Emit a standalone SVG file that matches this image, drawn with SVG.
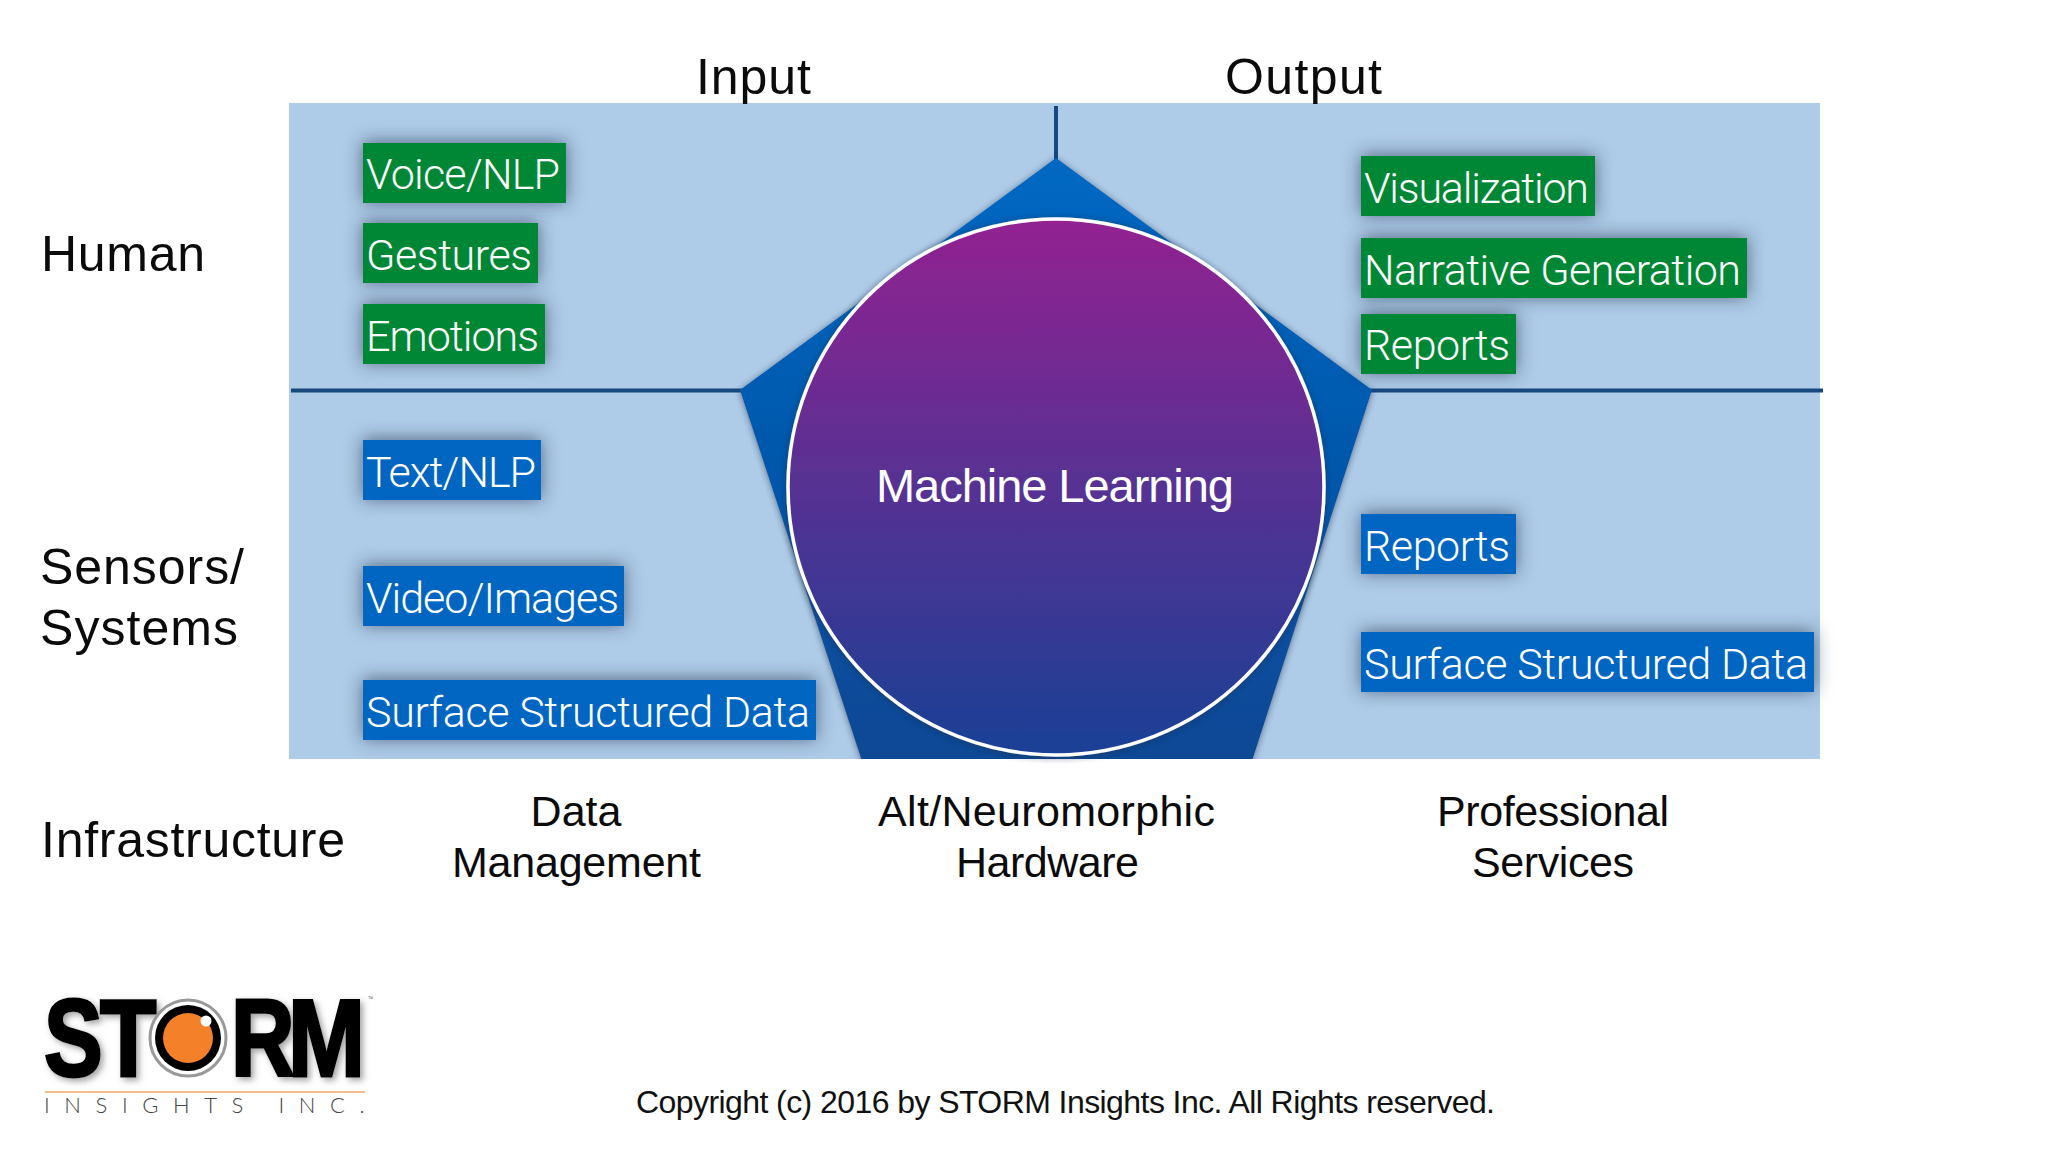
<svg xmlns="http://www.w3.org/2000/svg" width="2048" height="1152" viewBox="0 0 2048 1152">
<defs>
<style>
text{font-family:"Roboto","Liberation Sans",sans-serif;font-weight:300}
.lab{font-family:"Liberation Sans",Arial,sans-serif;font-weight:400;font-size:50px;fill:#0b0b0b}
.sm{font-size:43px}
.tag{font-size:43px;fill:#fff}
.g{fill:#068735}
.b{fill:#0566c2}
.sh{filter:url(#shadow)}
.axis{stroke:#17497f;stroke-width:4;fill:none}
.big{font-family:"Liberation Sans",Arial,sans-serif;font-weight:700;font-size:110px;fill:#000;stroke:#000;stroke-width:3}
</style>
<filter id="shadow" x="-30%" y="-50%" width="160%" height="200%"><feDropShadow dx="0" dy="-1" stdDeviation="9" flood-color="#2b3a55" flood-opacity="0.7"/></filter>
<filter id="edge" x="-10%" y="-10%" width="120%" height="120%"><feDropShadow dx="0" dy="1" stdDeviation="3" flood-color="#1a2a44" flood-opacity="0.6"/></filter>
<filter id="soft" x="-10%" y="-10%" width="120%" height="120%"><feDropShadow dx="3" dy="3" stdDeviation="3" flood-color="#555" flood-opacity="0.55"/></filter>
<linearGradient id="penta" x1="0" y1="0" x2="0" y2="1"><stop offset="0" stop-color="#0068c2"/><stop offset="1" stop-color="#0b4794"/></linearGradient>
<linearGradient id="ball" x1="0" y1="0" x2="0" y2="1"><stop offset="0" stop-color="#932291"/><stop offset="1" stop-color="#1a4095"/></linearGradient>
<clipPath id="panelClip"><rect x="289" y="103" width="1531" height="656"/></clipPath>
</defs>
<rect width="2048" height="1152" fill="#fff"/>
<rect id="panel" x="289" y="103" width="1531" height="656" fill="#aecbe7"/>
<g id="connectors">
<line class="axis" x1="291" y1="390.500" x2="745" y2="390.500"/>
<line class="axis" x1="1368" y1="390.500" x2="1823" y2="390.500"/>
<line class="axis" x1="1056" y1="106" x2="1056" y2="162"/>
</g>
<g id="pentagon" clip-path="url(#panelClip)"><polygon points="1056,158 1372,390 1249,770 865,770 740,390" fill="url(#penta)" filter="url(#edge)"/></g>
<g id="ml">
<circle cx="1056" cy="487" r="268" fill="url(#ball)" stroke="#fff" stroke-width="3.500" filter="url(#edge)"/>
<text x="876" y="502" font-size="47" fill="#fff" textLength="358" style="font-family:'Liberation Sans',sans-serif;font-weight:400">Machine Learning</text>
</g>
<g id="n-voice"><rect class="g sh" x="363" y="143" width="203" height="60"/><text class="tag" x="366" y="189" textLength="194">Voice/NLP</text></g>
<g id="n-gestures"><rect class="g sh" x="363" y="223" width="175" height="60"/><text class="tag" x="366" y="270" textLength="166">Gestures</text></g>
<g id="n-emotions"><rect class="g sh" x="363" y="304" width="182" height="60"/><text class="tag" x="366" y="351" textLength="173">Emotions</text></g>
<g id="n-text"><rect class="b sh" x="363" y="440" width="178" height="60"/><text class="tag" x="366" y="487" textLength="170">Text/NLP</text></g>
<g id="n-video"><rect class="b sh" x="363" y="566" width="261" height="60"/><text class="tag" x="366" y="613" textLength="253">Video/Images</text></g>
<g id="n-surface-in"><rect class="b sh" x="363" y="680" width="453" height="60"/><text class="tag" x="366" y="727" textLength="444">Surface Structured Data</text></g>
<g id="n-vis"><rect class="g sh" x="1361" y="156" width="234" height="60"/><text class="tag" x="1364" y="203" textLength="225">Visualization</text></g>
<g id="n-narr"><rect class="g sh" x="1361" y="238" width="386" height="60"/><text class="tag" x="1364" y="285" textLength="377">Narrative Generation</text></g>
<g id="n-rep-h"><rect class="g sh" x="1361" y="314" width="155" height="60"/><text class="tag" x="1364" y="360" textLength="146">Reports</text></g>
<g id="n-rep-s"><rect class="b sh" x="1361" y="514" width="155" height="60"/><text class="tag" x="1364" y="561" textLength="146">Reports</text></g>
<g id="n-surface-out"><rect class="b sh" x="1361" y="632" width="453" height="60"/><text class="tag" x="1364" y="679" textLength="444">Surface Structured Data</text></g>
<g id="labels">
<text class="lab" x="696" y="94" textLength="115">Input</text>
<text class="lab" x="1225" y="94" textLength="157">Output</text>
<text class="lab" x="41" y="271" textLength="164">Human</text>
<text class="lab" x="40" y="584" textLength="204">Sensors/</text>
<text class="lab" x="40" y="645" textLength="198">Systems</text>
<text class="lab" x="41" y="857" textLength="304">Infrastructure</text>
<text class="lab sm" x="576" y="826" text-anchor="middle" style="font-size:43px">Data</text>
<text class="lab sm" x="452" y="877" textLength="249" style="font-size:43px">Management</text>
<text class="lab sm" x="878" y="826" textLength="337" style="font-size:43px">Alt/Neuromorphic</text>
<text class="lab sm" x="956" y="877" textLength="183" style="font-size:43px">Hardware</text>
<text class="lab sm" x="1437" y="826" textLength="232" style="font-size:43px">Professional</text>
<text class="lab sm" x="1472" y="877" textLength="162" style="font-size:43px">Services</text>
<text x="636" y="1113" font-size="32" fill="#111" textLength="859" style="font-family:'Liberation Sans',sans-serif;font-weight:400">Copyright (c) 2016 by STORM Insights Inc. All Rights reserved.</text>
</g>
<g id="logo">
<g filter="url(#soft)">
<text class="big" transform="translate(44,1076) scale(.8,1)">S</text>
<text class="big" transform="translate(100,1076) scale(.84,1)">T</text>
<text class="big" transform="translate(231,1076) scale(.8,1)">R</text>
<text class="big" transform="translate(288,1076) scale(.84,1)">M</text>
</g>
<circle cx="188" cy="1038" r="38" fill="#fff" stroke="#999" stroke-width="3"/>
<circle cx="188" cy="1038" r="33" fill="#000"/>
<circle cx="188" cy="1038" r="25" fill="#f4802a"/>
<circle cx="206" cy="1021" r="5.500" fill="#fff"/>
<line x1="45" y1="1092" x2="365" y2="1092" stroke="#f6bd8e" stroke-width="2"/>
<text x="44" y="1113" font-size="22" fill="#444" style="font-family:Lato,sans-serif;letter-spacing:14.600px">INSIGHTS INC.</text>
<text x="368" y="1003" font-size="9" fill="#555">™</text>
</g>
</svg>
